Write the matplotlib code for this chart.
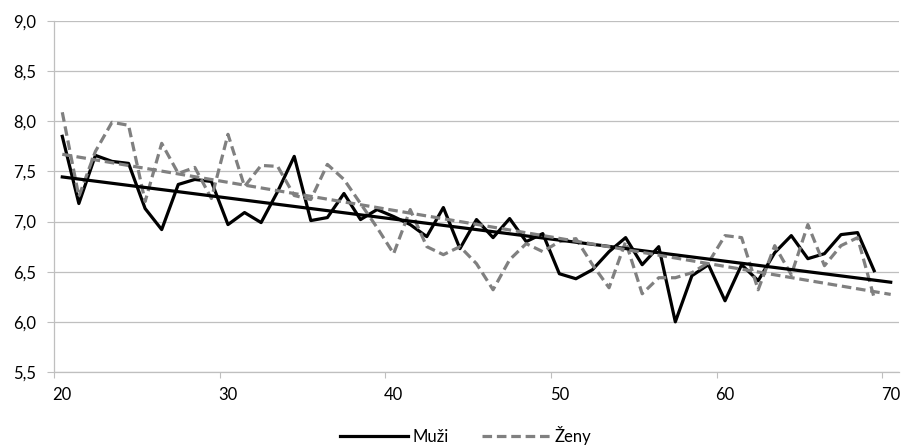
import numpy as np
import matplotlib
matplotlib.use("Agg")
import matplotlib.pyplot as plt

# ages 20..69, category axis runs 20..70
ages = list(range(20, 70))

muzi = [7.85, 7.18, 7.66, 7.60, 7.58, 7.13, 6.92, 7.37, 7.42, 7.40,
        6.97, 7.09, 6.99, 7.30, 7.65, 7.01, 7.04, 7.28, 7.02, 7.12,
        7.05, 6.97, 6.85, 7.14, 6.73, 7.02, 6.84, 7.03, 6.80, 6.88,
        6.48, 6.43, 6.52, 6.70, 6.84, 6.57, 6.75, 6.00, 6.46, 6.57,
        6.21, 6.57, 6.41, 6.69, 6.86, 6.63, 6.68, 6.87, 6.89, 6.51]

zeny = [8.09, 7.25, 7.70, 7.99, 7.96, 7.20, 7.78, 7.48, 7.54, 7.23,
        7.87, 7.35, 7.56, 7.55, 7.26, 7.22, 7.57, 7.42, 7.18, 6.94,
        6.68, 7.12, 6.75, 6.67, 6.75, 6.58, 6.32, 6.62, 6.78, 6.70,
        6.80, 6.83, 6.57, 6.34, 6.80, 6.28, 6.44, 6.44, 6.49, 6.59,
        6.86, 6.84, 6.32, 6.76, 6.47, 6.97, 6.56, 6.76, 6.84, 6.24]

y_ticks = [5.5, 6.0, 6.5, 7.0, 7.5, 8.0, 8.5, 9.0]
x_labels = [20, 30, 40, 50, 60, 70]

plt.rcParams['font.family'] = ['Lato', 'DejaVu Sans']

fig = plt.figure(figsize=(9.05, 4.47), dpi=100)
ax = fig.add_axes([54 / 905, 75 / 447, 845 / 905, 351 / 447])

grey = '#808080'
dash = (0, (3.0, 1.5))
lw = 2.3

ax.plot(ages, muzi, color='black', lw=lw, label='Muži')
ax.plot(ages, zeny, color=grey, lw=lw, linestyle=dash, label='Ženy')

# linear trends, extended one period forward
xt = np.array([20, 70])
k1, q1 = np.polyfit(ages, muzi, 1)
k2, q2 = np.polyfit(ages, zeny, 1)
ax.plot(xt, k1 * xt + q1, color='black', lw=lw)
ax.plot(xt, k2 * xt + q2, color=grey, lw=lw, linestyle=dash)

ax.set_xlim(19.5, 70.5)
ax.set_ylim(5.5, 9.0)

ax.set_yticks(y_ticks)
ax.set_yticklabels([f"{v:.1f}".replace('.', ',') for v in y_ticks])
ax.set_xticks(x_labels)
ax.set_xticklabels([str(v) for v in x_labels])
ax.set_xticks([19.5 + 10 * i for i in range(6)], minor=True)
ax.tick_params(axis='x', which='major', length=0, pad=11)
ax.tick_params(axis='x', which='minor', length=4.5, width=0.8)
ax.tick_params(axis='y', length=5, width=0.8, pad=8)
ax.tick_params(labelsize=12)
ax.tick_params(axis='both', which='both', colors='#bfbfbf', labelcolor='black')

ax.grid(axis='y', color='#bfbfbf', lw=0.9)
ax.set_axisbelow(True)
for s in ['top', 'right']:
    ax.spines[s].set_visible(False)
for s in ['left', 'bottom']:
    ax.spines[s].set_color('#bfbfbf')
    ax.spines[s].set_linewidth(0.9)

ax.legend(loc='center', bbox_to_anchor=(0.487, -0.18), ncol=2, frameon=False,
          fontsize=12, handlelength=4.1, handletextpad=0.25, columnspacing=2.0)

fig.savefig('out.png', dpi=100)
